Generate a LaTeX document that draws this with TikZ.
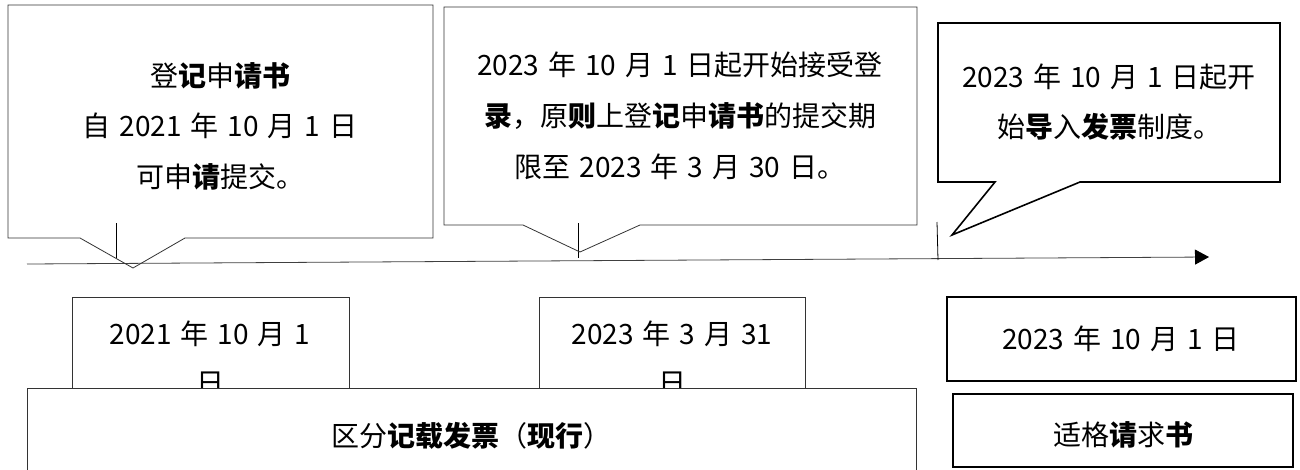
\documentclass[tikz,border=0pt]{standalone}
\usepackage{fontspec}
\newfontfamily\cjk{Noto Sans CJK SC}
\usetikzlibrary{arrows.meta}
\newcommand\cjksize[1]{\cjk\fontsize{28}{#1}\selectfont\spaceskip=9pt plus 1pt\relax}
\tikzset{
  every node/.style={inner sep=0pt, align=center},
  txt/.style={font=\cjksize{50.5}},
  thinline/.style={draw=black!80, line width=0.8pt},
  boldline/.style={draw=black, line width=1.6pt},
  whitebox/.style={thinline, fill=white},
}
\newcommand\bz[1]{\textbf{#1}}
\begin{document}
\begin{tikzpicture}[x=1pt,y=-1pt]
\useasboundingbox (0,0) rectangle (1300,469);
\fill[white] (0,0) rectangle (1300,469);

% timeline
\coordinate (t0) at (27,264);
\coordinate (t1) at (1209,257);
\draw[black!75, line width=0.8pt, -{Triangle[length=14pt,width=15pt,color=black]}] (t0) -- (t1);

% ticks
\coordinate (k1a) at (116,223); \coordinate (k1b) at (116,258);
\coordinate (k2a) at (578,223); \coordinate (k2b) at (578,258);
\coordinate (k3a) at (937,222); \coordinate (k3b) at (938,260);
\draw[black, line width=0.8pt] (k1a) -- (k1b);
\draw[black, line width=0.8pt] (k2a) -- (k2b);
\draw[black, line width=0.8pt] (k3a) -- (k3b);

% callouts
\draw[thinline, line join=miter] (8,5) -- (433,5) -- (433,238) -- (185,238) -- (133,268) -- (80,238) -- (8,238) -- cycle;
\draw[thinline, line join=miter] (444,7) -- (917,7) -- (917,225) -- (640,225) -- (580,252) -- (523,225) -- (444,225) -- cycle;
\draw[boldline, line join=miter] (938,23) -- (1280,23) -- (1280,182) -- (1080,182) -- (952,235) -- (995,182) -- (938,182) -- cycle;

\node[txt] (c1) at (220,126) {登\bz{记}申\bz{请书}\\自 2021 年 10 月 1 日\\可申\bz{请}提交。};
\node[txt, font=\cjksize{51}] (c2) at (680,116) {2023 年 10 月 1 日起开始接受登\\\bz{录}，原\bz{则}上登\bz{记}申\bz{请书}的提交期\\限至 2023 年 3 月 30 日。};
\node[txt, font=\cjksize{50}] (c3) at (1109,102) {2023 年 10 月 1 日起开\\始\bz{导}入\bz{发票}制度。};

% bottom date boxes (partly covered)
\draw[thinline] (72,297) rectangle (349,400);
\node[txt, font=\cjksize{49}] (dA) at (210,358) {2021 年 10 月 1\\日};
\draw[thinline] (539,297) rectangle (805,400);
\node[txt, font=\cjksize{49}] (dB) at (672,358) {2023 年 3 月 31\\日};

% big box
\draw[whitebox] (27,388) rectangle (916,480);
\node[txt] (big) at (471,436) {区分\bz{记载发票}（\bz{现行}）};

% right boxes
\draw[boldline] (947,297) rectangle (1296,381);
\node[txt] (dC) at (1121,339) {2023 年 10 月 1 日};
\draw[boldline] (953,394) rectangle (1293,467);
\node[txt] (dD) at (1123,435) {适格\bz{请}求\bz{书}};
\end{tikzpicture}
\end{document}
